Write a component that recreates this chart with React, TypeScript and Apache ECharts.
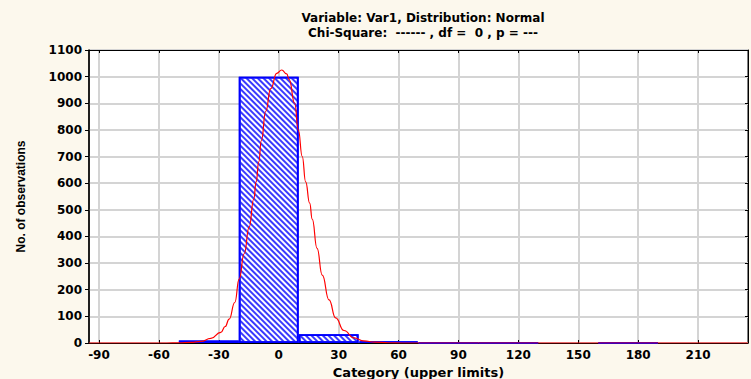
import React, { useEffect, useRef } from "react";
import * as echarts from "echarts";

const titleLines = [
  "Variable: Var1, Distribution: Normal",
  "Chi-Square:  ------ , df =  0 , p = ---",
];
const xAxisName = "Category (upper limits)";
const yAxisName = "No. of observations";

// histogram bins (upper limits) and observed counts
const binUpperLimits = [-20, 10, 40, 70, 100, 130, 160, 190];
const binWidth = 30;
const observed = [9, 1000, 33, 6, 1, 1, 0, 1];

const xTicks = [-90, -60, -30, 0, 30, 60, 90, 120, 150, 180, 210];
const xMin = -95;
const xMax = 235;
const yMin = 0;
const yMax = 1100;
const yStep = 100;

// fitted normal curve
const curveX = [
  -95, -56, -50, -44, -39, -34, -29, -26.8, -24.8, -22, -19.8, -17.3, -14.8,
  -12.5, -11.3, -10, -8.7, -6.5, -4, -1, 1.5, 4, 5.2, 8, 9.8, 11.8, 13.5, 15.5,
  16.8, 19.2, 21.8, 25.2, 28.5, 32.7, 37.7, 42.7, 48, 55, 62, 235,
];
const curveY = [
  0, 0, 0.5, 2, 6, 17, 40, 62, 90, 152, 240, 335, 435, 540, 605, 680, 760,
  870, 955, 1012, 1025, 1010, 990, 900, 800, 700, 605, 525, 465, 355, 255, 162,
  94, 47, 19, 8, 3, 1, 0, 0,
];

const FONT = "'DejaVu Sans', Verdana, sans-serif";

export default function App() {
  const ref = useRef<HTMLDivElement>(null);
  useEffect(() => {
    if (!ref.current) return;
    const chart = echarts.init(ref.current, null, { renderer: "svg" });
    const barData = binUpperLimits
      .map((u, i) => [u - binWidth / 2, observed[i]])
      .filter((d) => d[1] > 0);
    const curveData = curveX.map((x, i) => [x, curveY[i]]);
    chart.setOption({
      animation: false,
      backgroundColor: "#FCF8ED",
      title: {
        text: titleLines.join("\n"),
        left: 418,
        top: 5,
        textAlign: "center",
        textStyle: {
          fontFamily: FONT,
          fontWeight: "bold",
          fontSize: 12,
          lineHeight: 15,
          color: "#000",
        },
      },
      grid: {
        left: 89,
        right: 3,
        top: 50,
        bottom: 36,
        show: true,
        backgroundColor: "#ffffff",
        borderColor: "#000",
        borderWidth: 1,
        containLabel: false,
        outerBoundsMode: "none",
      },
      xAxis: [
        {
          type: "value",
          position: "bottom",
          min: xMin,
          max: xMax,
          axisLine: { show: true, onZero: false, lineStyle: { color: "#000", width: 1 } },
          axisTick: {
            show: true,
            inside: true,
            length: 3,
            customValues: xTicks,
            lineStyle: { color: "#000" },
          },
          axisLabel: {
            customValues: xTicks,
            formatter: (v: number) => String(v),
            color: "#000",
            fontFamily: FONT,
            fontWeight: "bold",
            fontSize: 12,
            margin: 6,
          },
          splitLine: { show: true, lineStyle: { color: "#d4d4d4", width: 2 } },
          name: xAxisName,
          nameLocation: "middle",
          nameGap: 21,
          nameTextStyle: {
            color: "#000",
            fontFamily: FONT,
            fontWeight: "bold",
            fontSize: 13,
          },
        },
        {
          type: "value",
          position: "top",
          min: xMin,
          max: xMax,
          axisLine: { show: true, onZero: false, lineStyle: { color: "#000", width: 1 } },
          axisTick: {
            show: true,
            inside: true,
            length: 3,
            customValues: xTicks,
            lineStyle: { color: "#000" },
          },
          axisLabel: { show: false },
          splitLine: { show: false },
        },
      ],
      yAxis: [
        {
          type: "value",
          position: "left",
          min: yMin,
          max: yMax,
          interval: yStep,
          axisLine: { show: true, onZero: false, lineStyle: { color: "#000", width: 1.5 } },
          axisTick: { show: true, inside: false, length: 4, lineStyle: { color: "#000" } },
          axisLabel: {
            formatter: (v: number) => String(v),
            color: "#000",
            fontFamily: FONT,
            fontWeight: "bold",
            fontSize: 12,
            margin: 7,
          },
          splitLine: { show: true, lineStyle: { color: "#d4d4d4", width: 2 } },
          name: yAxisName,
          nameLocation: "middle",
          nameGap: 62,
          nameRotate: 90,
          nameTextStyle: {
            color: "#000",
            fontFamily: "'Liberation Sans Narrow', 'Liberation Sans', Arial, sans-serif",
            fontWeight: "bold",
            fontSize: 12,
          },
        },
        {
          type: "value",
          position: "right",
          min: yMin,
          max: yMax,
          interval: yStep,
          axisLine: { show: true, onZero: false, lineStyle: { color: "#000", width: 1 } },
          axisTick: { show: true, inside: true, length: 3, lineStyle: { color: "#000" } },
          axisLabel: { show: false },
          splitLine: { show: false },
        },
      ],
      series: [
        {
          type: "bar",
          xAxisIndex: 0,
          yAxisIndex: 0,
          data: barData,
          barWidth: "100%",
          itemStyle: {
            color: "#ffffff",
            borderColor: "#0000ff",
            borderWidth: 1.8,
            decal: {
              symbol: "rect",
              symbolSize: 1,
              dashArrayX: [1, 0],
              dashArrayY: [1.2, 1.5],
              rotation: Math.PI / 4,
              color: "#3a3aff",
              backgroundColor: "transparent",
            },
          },
          z: 2,
        },
        {
          type: "line",
          xAxisIndex: 0,
          yAxisIndex: 0,
          data: curveData,
          showSymbol: false,
          symbol: "none",
          smooth: 0.5,
          smoothMonotone: "x",
          lineStyle: { color: "#ff0000", width: 1.2 },
          z: 3,
        },
      ],
    });
    return () => chart.dispose();
  }, []);
  return (
    <div
      ref={ref}
      style={{ position: "fixed", left: 0, top: 0, width: 751, height: 379 }}
    />
  );
}
